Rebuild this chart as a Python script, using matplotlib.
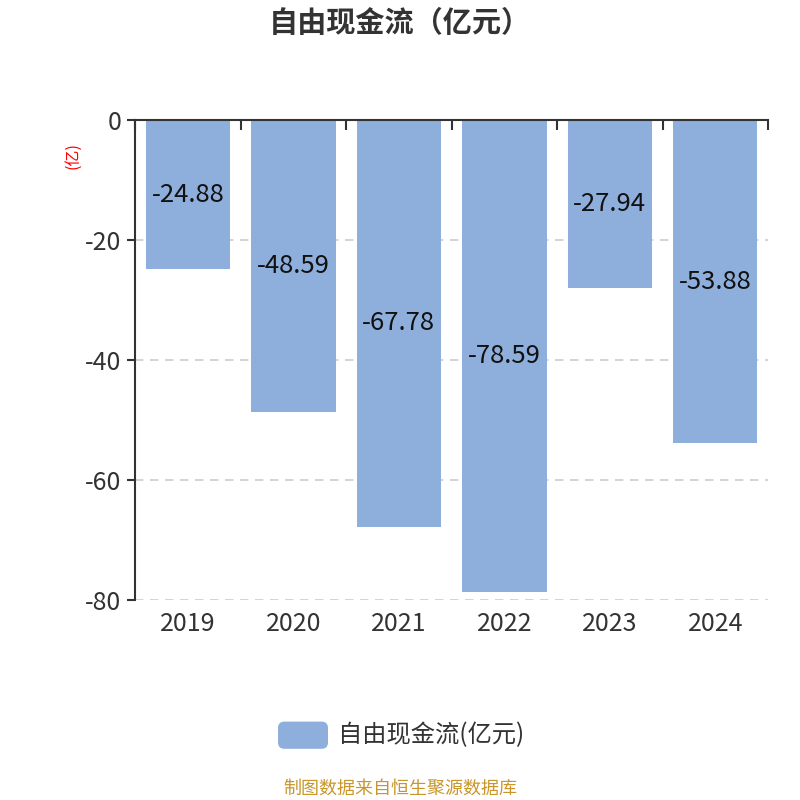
import matplotlib.pyplot as plt
from matplotlib.patches import FancyBboxPatch
import numpy as np

plt.rcParams['font.family'] = ['Noto Sans CJK SC', 'DejaVu Sans']

years = ["2019", "2020", "2021", "2022", "2023", "2024"]
values = [-24.88, -48.59, -67.78, -78.59, -27.94, -53.88]
series_name = "自由现金流(亿元)"

bar_color = "#8eaedb"
text_color = "#333333"

fig = plt.figure(figsize=(8, 8), dpi=100)
ax = fig.add_axes([0.169, 0.25, 0.791, 0.60])

x = np.arange(len(years))
bars = ax.bar(x, values, width=0.8, color=bar_color, zorder=2)

for xi, v in zip(x, values):
    ax.text(xi, v / 2, f"{v:.2f}", ha="center", va="center",
            fontsize=18.5, color="#111111", zorder=3)

ax.set_xlim(-0.5, len(years) - 0.5)
ax.set_ylim(-80, 0)
ax.set_yticks([0, -20, -40, -60, -80])
ax.set_yticklabels(["0", "-20", "-40", "-60", "-80"])
ax.yaxis.grid(True, linestyle=(0, (5, 4)), color="#cccccc", linewidth=1.2, zorder=0)

ax.set_xticks(x)
ax.set_xticklabels(years)
ax.set_xticks(np.arange(len(years) + 1) - 0.5, minor=True)
ax.tick_params(axis="x", which="major", length=0, pad=8, labelsize=18, labelcolor=text_color)
ax.tick_params(axis="x", which="minor", top=True, bottom=False, direction="in",
               length=7, width=1.5, color="#333333")
ax.tick_params(axis="y", which="major", length=6, width=1.5, color="#333333",
               labelsize=18, labelcolor=text_color, pad=4)

for side in ["right", "bottom"]:
    ax.spines[side].set_visible(False)
ax.spines["top"].set_linewidth(1.5)
ax.spines["top"].set_color("#333333")
ax.spines["left"].set_linewidth(1.5)
ax.spines["left"].set_color("#333333")

fig.text(0.0913, 0.806, "(亿)", rotation=90, color="red", fontsize=11.5,
         ha="center", va="center")

fig.text(0.5, 0.971, "自由现金流（亿元）", ha="center", va="center",
         fontsize=21, fontweight="bold", color=text_color)

# legend
patch = FancyBboxPatch((0.3475, 0.064), 0.0625, 0.034,
                       boxstyle="round,pad=0,rounding_size=0.008",
                       transform=fig.transFigure, facecolor=bar_color,
                       edgecolor="none")
fig.patches.append(patch)
fig.text(0.4225, 0.0813, series_name, ha="left", va="center",
         fontsize=17.5, color=text_color)

fig.text(0.5, 0.0138, "制图数据来自恒生聚源数据库", ha="center", va="center",
         fontsize=13, color="#c8962a")

fig.savefig("out.png", dpi=100)
